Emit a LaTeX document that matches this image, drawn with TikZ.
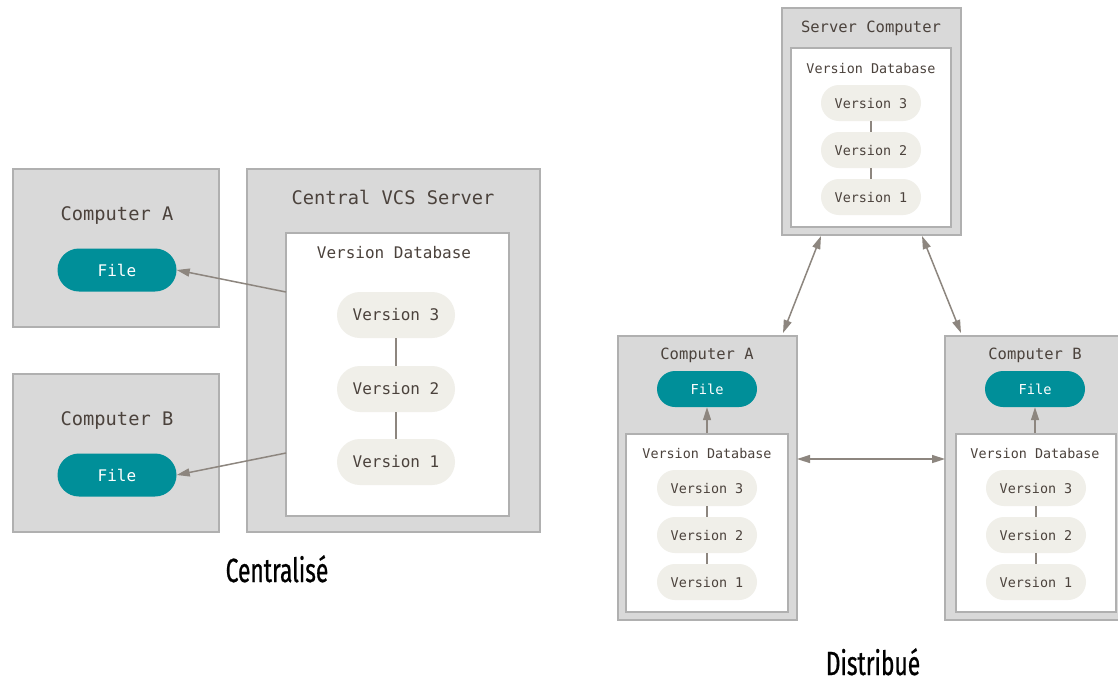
\documentclass[tikz,border=0pt]{standalone}
\usepackage{fontspec}
\setmonofont{DejaVu Sans Mono}
\newfontfamily\capfont[FakeStretch=0.68,FakeBold=0.7]{Fira Sans}
\usetikzlibrary{arrows.meta}

\definecolor{boxfill}{RGB}{217,217,217}
\definecolor{boxline}{RGB}{176,176,176}
\definecolor{teal}{RGB}{0,143,153}
\definecolor{pillfill}{RGB}{240,239,233}
\definecolor{linkc}{RGB}{141,134,127}
\definecolor{ink}{RGB}{75,66,60}

\tikzset{
  machine/.style={draw=boxline, fill=boxfill, line width=2pt, inner sep=0pt},
  dbbox/.style={draw=boxline, fill=white, line width=2pt, inner sep=0pt},
  bigtitle/.style={text=ink, inner sep=0pt, font=\ttfamily\fontsize{18.7}{20}\selectfont},
  bigtext/.style={text=ink, inner sep=0pt, font=\ttfamily\fontsize{16}{18}\selectfont},
  smalltitle/.style={text=ink, inner sep=0pt, font=\ttfamily\fontsize{15.5}{17}\selectfont},
  smalltext/.style={text=ink, inner sep=0pt, font=\ttfamily\fontsize{13.4}{15}\selectfont},
  bigfile/.style={fill=teal, text=white, rounded corners=21.5pt, minimum width=119pt,
    minimum height=43pt, inner sep=0pt, font=\ttfamily\fontsize{16}{18}\selectfont},
  smallfile/.style={fill=teal, text=white, rounded corners=18pt, minimum width=100pt,
    minimum height=36pt, inner sep=0pt, font=\ttfamily\fontsize{13.7}{15}\selectfont},
  bigver/.style={fill=pillfill, text=ink, rounded corners=23pt, minimum width=118pt,
    minimum height=46pt, inner sep=0pt, font=\ttfamily\fontsize{16}{18}\selectfont},
  smallver/.style={fill=pillfill, text=ink, rounded corners=18pt, minimum width=100pt,
    minimum height=36pt, inner sep=0pt, font=\ttfamily\fontsize{13.4}{15}\selectfont},
  vlink/.style={draw=linkc, line width=1.2pt},
  flow/.style={draw=linkc, line width=1.5pt, -{Triangle[length=13pt,width=8pt]}},
  both/.style={draw=linkc, line width=1.5pt,
    {Triangle[length=13pt,width=8pt]}-{Triangle[length=13pt,width=8pt]}},
  caption/.style={inner sep=0pt, anchor=base, text=black,
    font=\capfont\fontsize{33.5}{36}\selectfont}
}

\begin{document}
\begin{tikzpicture}[x=1pt,y=-1pt]
\clip (0,0) rectangle (1118,681);
\fill[white] (0,0) rectangle (1118,681);

% ---------------- centralised ----------------
\node[machine, minimum width=206pt, minimum height=158pt] (ca) at (116,248) {};
\node[machine, minimum width=206pt, minimum height=158pt] (cb) at (116,453) {};
\node[machine, minimum width=293pt, minimum height=363pt] (cs) at (393.5,350.5) {};
\node[dbbox, minimum width=223pt, minimum height=283pt] (cdb) at (397.5,374.5) {};

\node[bigtitle] (caT) at (117,215) {Computer A};
\node[bigtitle] (cbT) at (117,420) {Computer B};
\node[bigtitle] (csT) at (393,197) {Central VCS Server};
\node[bigtext]  (cdbT) at (394,253) {Version Database};

\node[bigfile] (caF) at (117,270) {File};
\node[bigfile] (cbF) at (117,475) {File};

\node[bigver] (cv3) at (396,315) {Version 3};
\node[bigver] (cv2) at (396,389) {Version 2};
\node[bigver] (cv1) at (396,462) {Version 1};
\draw[vlink] (cv3) -- (cv2);
\draw[vlink] (cv2) -- (cv1);

\coordinate (coutA) at (286,292);
\coordinate (coutB) at (286,453);
\draw[flow] (coutA) -- (caF.east);
\draw[flow] (coutB) -- (cbF.east);

\node[caption] (capC) at (277,582) {Centralisé};

% ---------------- distributed ----------------
% server
\node[machine, minimum width=179pt, minimum height=227pt] (srv) at (871.5,121.5) {};
\node[dbbox, minimum width=160pt, minimum height=179pt] (sdb) at (871,137.5) {};
\node[smalltitle] (srvT) at (871,28) {Server Computer};
\node[smalltext] (sdbT) at (871,68) {Version Database};
\node[smallver] (sv3) at (871,103) {Version 3};
\node[smallver] (sv2) at (871,150) {Version 2};
\node[smallver] (sv1) at (871,197) {Version 1};
\draw[vlink] (sv3) -- (sv2);
\draw[vlink] (sv2) -- (sv1);

% computer A
\node[machine, minimum width=179pt, minimum height=284pt] (ra) at (707.5,478) {};
\node[dbbox, minimum width=162pt, minimum height=178pt] (radb) at (707,523) {};
\node[smalltitle] (raT) at (707,355) {Computer A};
\node[smallfile] (raF) at (707,389) {File};
\node[smalltext] (radbT) at (707,453) {Version Database};
\node[smallver] (rav3) at (707,488) {Version 3};
\node[smallver] (rav2) at (707,535) {Version 2};
\node[smallver] (rav1) at (707,582) {Version 1};
\draw[vlink] (rav3) -- (rav2);
\draw[vlink] (rav2) -- (rav1);
\draw[flow] (radb.north) -- (raF.south);

% computer B
\node[machine, minimum width=180pt, minimum height=284pt] (rb) at (1035,478) {};
\node[dbbox, minimum width=160pt, minimum height=178pt] (rbdb) at (1036,523) {};
\node[smalltitle] (rbT) at (1035,355) {Computer B};
\node[smallfile] (rbF) at (1035,389) {File};
\node[smalltext] (rbdbT) at (1035,453) {Version Database};
\node[smallver] (rbv3) at (1036,488) {Version 3};
\node[smallver] (rbv2) at (1036,535) {Version 2};
\node[smallver] (rbv1) at (1036,582) {Version 1};
\draw[vlink] (rbv3) -- (rbv2);
\draw[vlink] (rbv2) -- (rbv1);
\draw[flow] (rbdb.north -| rbF.south) -- (rbF.south);

% links between machines
\coordinate (sA) at (821,236);
\coordinate (tA) at (783,333);
\coordinate (sB) at (922,236);
\coordinate (tB) at (961,333);
\draw[both] (sA) -- (tA);
\draw[both] (sB) -- (tB);
\coordinate (abL) at (797,459);
\coordinate (abR) at (945,459);
\draw[both] (abL) -- (abR);

\node[caption] (capD) at (873,675) {Distribué};
\end{tikzpicture}
\end{document}
